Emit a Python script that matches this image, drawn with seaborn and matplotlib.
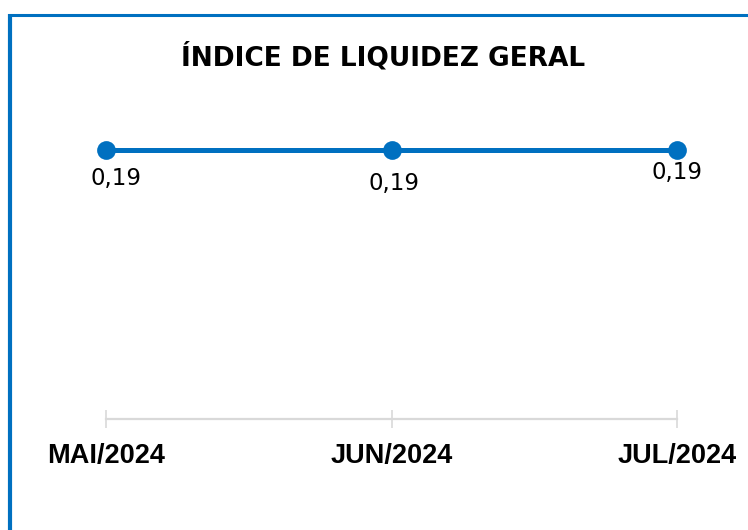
import matplotlib
matplotlib.use("Agg")
import matplotlib.pyplot as plt
import seaborn as sns
import pandas as pd
from matplotlib.lines import Line2D

# Data
categories = ["MAI/2024", "JUN/2024", "JUL/2024"]
values = [0.19, 0.19, 0.19]
value_labels = ["0,19", "0,19", "0,19"]
title = "ÍNDICE DE LIQUIDEZ GERAL"

df = pd.DataFrame({"mes": categories, "valor": values})
df["pos"] = range(len(df))

sns.set_style("white")
plt.rcParams["font.family"] = ["DejaVu Sans"]

W, H = 748, 530
fig = plt.figure(figsize=(W / 100, H / 100), dpi=100)
fig.patch.set_facecolor("white")

# axes placement in pixels
left_px, right_px = 106, 677
bottom_px, top_px = 419, 100.4
ax = fig.add_axes([left_px / W, 1 - bottom_px / H,
                   (right_px - left_px) / W, (bottom_px - top_px) / H])

blue = "#0070C0"
sns.lineplot(data=df, x="pos", y="valor", ax=ax, color=blue, linewidth=3.6,
             marker="o", markersize=13.5, markeredgewidth=0, markerfacecolor=blue,
             legend=False)
for ln in ax.lines:
    ln.set_clip_on(False)

ax.set_xlim(0, 2)
ax.set_ylim(0, 0.225)
ax.set_xticks(df["pos"])
ax.set_xticklabels(categories, fontsize=19.5, fontweight="bold",
                   family=["Liberation Sans", "DejaVu Sans"])
ax.set_yticks([])
ax.set_xlabel("")
ax.set_ylabel("")
for s in ["top", "right", "left"]:
    ax.spines[s].set_visible(False)
ax.spines["bottom"].set_color("#D9D9D9")
ax.spines["bottom"].set_linewidth(1.6)
ax.tick_params(axis="x", bottom=True, direction="inout", length=12.5, width=1.2,
               color="#D9D9D9", pad=11, labelcolor="black")
ax.set_facecolor("none")

# data labels (offsets in pixels as in the reference layout)
label_offsets_px = [(10, -29), (3, -34), (0, -23)]
for i, (v, lab) in enumerate(zip(values, value_labels)):
    dx, dy = label_offsets_px[i]
    ax.annotate(lab, (i, v), xytext=(dx * 0.72, dy * 0.72),
                textcoords="offset points", ha="center", va="center",
                fontsize=16.5, color="black", annotation_clip=False)

# title
fig.text(383 / W, 1 - 57 / H, title, ha="center", va="center",
         fontsize=19, fontweight="bold", color="black")

# border lines (left and top)
fig.add_artist(Line2D([10 / W, 10 / W], [0, 1 - 14 / H], color=blue,
                      linewidth=3.0, transform=fig.transFigure,
                      solid_capstyle="butt"))
fig.add_artist(Line2D([8 / W, 1], [1 - 15.3 / H, 1 - 15.3 / H], color=blue,
                      linewidth=2.2, transform=fig.transFigure,
                      solid_capstyle="butt"))

fig.savefig("out.png", dpi=100, facecolor="white")
